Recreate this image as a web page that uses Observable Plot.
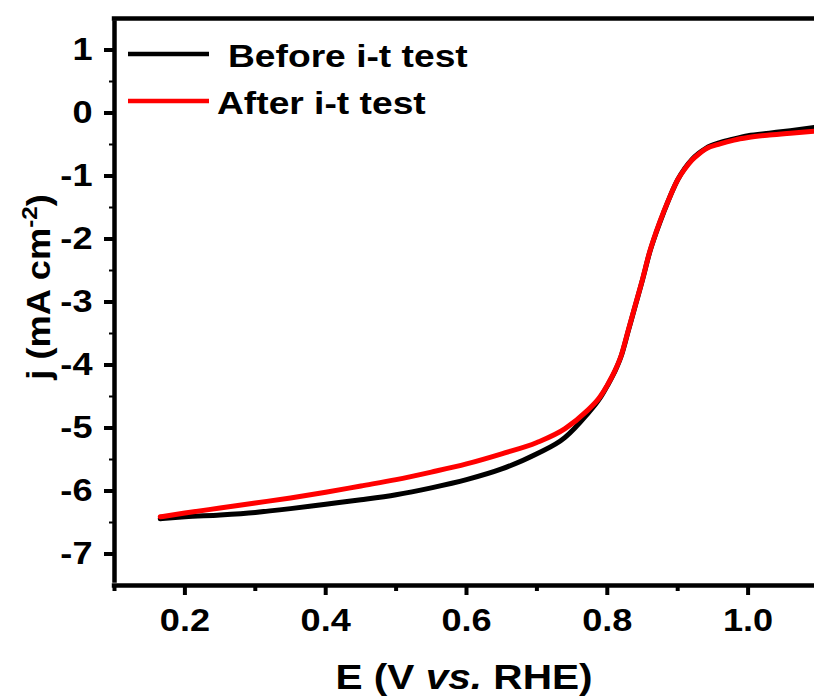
<!DOCTYPE html>
<html><head><meta charset="utf-8">
<script src="https://cdn.jsdelivr.net/npm/d3@7"></script>
<script src="https://cdn.jsdelivr.net/npm/@observablehq/plot@0.6"></script>
<style>
html,body{margin:0;padding:0;background:#fff;overflow:hidden}
#chart svg{display:block;font-family:"Liberation Sans",Arial,sans-serif;background:#fff}
</style></head><body><div id="chart"></div>
<script>
// ---- data ----
const potential = [0.165,0.2,0.25,0.3,0.35,0.4,0.45,0.5,0.55,0.6,0.65,0.7,0.74,0.77,0.79,0.80,0.81,0.82,0.83,0.84,0.85,0.86,0.87,0.88,0.89,0.90,0.91,0.92,0.93,0.94,0.96,0.98,1.0,1.03,1.06,1.094];
const jBefore = [-6.44,-6.41,-6.38,-6.34,-6.28,-6.21,-6.14,-6.06,-5.95,-5.82,-5.65,-5.41,-5.15,-4.80,-4.52,-4.33,-4.12,-3.85,-3.45,-3.05,-2.65,-2.22,-1.88,-1.58,-1.30,-1.06,-0.88,-0.74,-0.64,-0.56,-0.47,-0.41,-0.36,-0.32,-0.28,-0.23];
const jAfter  = [-6.41,-6.35,-6.27,-6.19,-6.11,-6.02,-5.92,-5.82,-5.70,-5.57,-5.41,-5.23,-5.01,-4.74,-4.50,-4.32,-4.11,-3.84,-3.44,-3.04,-2.64,-2.21,-1.87,-1.57,-1.30,-1.06,-0.89,-0.75,-0.65,-0.57,-0.49,-0.43,-0.39,-0.35,-0.32,-0.29];
const seriesNames = ["Before i-t test", "After i-t test"];
const seriesColors = ["#000000", "#ff0000"];
const xTicks = [0.2, 0.4, 0.6, 0.8, 1.0];
const xMinorTicks = [0.1, 0.3, 0.5, 0.7, 0.9];
const yTicks = [-7, -6, -5, -4, -3, -2, -1, 0, 1];
const yMinorTicks = [-6.5, -5.5, -4.5, -3.5, -2.5, -1.5, -0.5, 0.5];
const xTitle = ["E (V ", "vs.", " RHE)"];
const yTitle = ["j (mA cm", "-2", ")"];

// ---- build table ----
const rows = [];
[jBefore, jAfter].forEach((arr, s) => arr.forEach((j, i) => rows.push({E: potential[i], j, series: seriesNames[s]})));

const W = 814, H = 698;
const mL = 114, mR = 0, mT = 18, mB = 113;
const xDomain = [0.1, 0.1 + (W - mL - mR) / 704];
const yDomain = [-7.5, 1.5];
const FS = 32, SX = 1.13;

const svg = Plot.plot({
  width: W, height: H,
  marginLeft: mL, marginRight: mR, marginTop: mT, marginBottom: mB,
  style: {fontFamily: '"Liberation Sans", Arial, sans-serif', color: "#000", background: "#fff"},
  x: {domain: xDomain, axis: null},
  y: {domain: yDomain, axis: null},
  color: {domain: seriesNames, range: seriesColors},
  marks: [
    Plot.axisX(xMinorTicks, {tickSize: 6, strokeWidth: 4, text: null, label: null}),
    Plot.axisY(yMinorTicks, {tickSize: 5, strokeWidth: 2, text: null, label: null}),
    Plot.axisX(xTicks, {tickSize: 10, tickPadding: 13, strokeWidth: 4, tickFormat: d3.format(".1f"), fontSize: FS, fontWeight: "bold", label: null}),
    Plot.axisY(yTicks, {tickSize: 10, tickPadding: 12, strokeWidth: 4, tickFormat: d => String(d), fontSize: FS, fontWeight: "bold", label: null}),
    Plot.line(rows.filter(d => d.series === seriesNames[0]), {x: "E", y: "j", stroke: "series", strokeWidth: 5, curve: "monotone-x"}),
    Plot.line(rows.filter(d => d.series === seriesNames[1]), {x: "E", y: "j", stroke: "series", strokeWidth: 5, curve: "monotone-x"}),
    Plot.ruleX([xDomain[0]], {strokeWidth: 4.5, y1: yDomain[0], y2: yDomain[1], insetTop: -2.2, insetBottom: -2.2}),
    Plot.ruleY([yDomain[0], yDomain[1]], {strokeWidth: 4.5, insetLeft: -2.2})
  ]
});

// widen text slightly, as in the reference
svg.querySelectorAll("text").forEach(t => {
  const tr = t.getAttribute("transform");
  if (tr) t.setAttribute("transform", tr + ` scale(${SX},1)`);
});

const root = d3.select(svg);
// legend
const leg = root.append("g").attr("text-anchor", "start");
const legY = [54, 101];
const legTextX = [228, 217];
seriesNames.forEach((name, i) => {
  leg.append("line").attr("x1", 128).attr("x2", 209).attr("y1", legY[i]).attr("y2", legY[i])
    .attr("stroke", seriesColors[i]).attr("stroke-width", 4.5);
  leg.append("text").attr("text-anchor", "start")
    .attr("transform", `translate(${legTextX[i]},${legY[i] + 13}) scale(1.2,1)`)
    .attr("font-size", 31).attr("font-weight", "bold").attr("fill", "#000").text(name);
});

// axis titles
const xt = root.append("text").attr("text-anchor", "middle")
  .attr("transform", `translate(${mL + (W - mL) / 2 + 0},689) scale(1.16,1)`)
  .attr("font-size", 35).attr("font-weight", "bold").attr("fill", "#000");
xt.append("tspan").text(xTitle[0]);
xt.append("tspan").attr("font-style", "italic").text(xTitle[1]);
xt.append("tspan").text(xTitle[2]);

const yt = root.append("text").attr("text-anchor", "middle")
  .attr("transform", `translate(50,287) rotate(-90) scale(1.1,1)`)
  .attr("font-size", 33).attr("font-weight", "bold").attr("fill", "#000");
yt.append("tspan").text(yTitle[0]);
yt.append("tspan").attr("font-size", 22).attr("dy", -13).text(yTitle[1]);
yt.append("tspan").attr("dy", 13).text(yTitle[2]);

document.getElementById("chart").appendChild(svg);
</script></body></html>
